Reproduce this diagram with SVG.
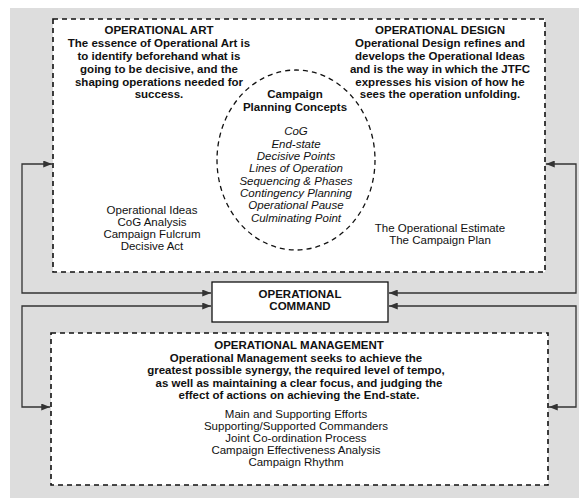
<svg xmlns="http://www.w3.org/2000/svg" width="579" height="498" viewBox="0 0 579 498">
<style>
  text { font-family: "Liberation Sans", Arial, sans-serif; font-size: 11.5px; fill: #111; text-anchor: middle; }
  .b { font-weight: bold; }
  .i { font-style: italic; }
  .dash { fill: #fff; stroke: #111; stroke-width: 1.6; stroke-dasharray: 5 4; }
  .cdash { fill: none; stroke: #111; stroke-width: 1.3; stroke-dasharray: 5 4; }
  .solid { fill: #fff; stroke: #111; stroke-width: 1.3; }
  .conn { fill: none; stroke: #333; stroke-width: 1.3; }
</style>
<defs>
  <marker id="ah" viewBox="0 0 10 8" refX="10" refY="4" markerWidth="9" markerHeight="7" markerUnits="userSpaceOnUse" orient="auto-start-reverse">
    <path d="M0,0 L10,4 L0,8 Z" fill="#333"/>
  </marker>
</defs>
<rect x="10" y="8" width="569" height="490" fill="#dddddd"/>

<g id="operational-art-design">
  <rect class="dash" x="53" y="19" width="492" height="253"/>
  <text class="b" x="159" y="34">OPERATIONAL ART</text>
  <text class="b" x="159" y="47">The essence of Operational Art is</text>
  <text class="b" x="159" y="60">to identify beforehand what is</text>
  <text class="b" x="159" y="73">going to be decisive, and the</text>
  <text class="b" x="159" y="85.5">shaping operations needed for</text>
  <text class="b" x="159" y="98">success.</text>
  <text class="b" x="440" y="34">OPERATIONAL DESIGN</text>
  <text class="b" x="440" y="47">Operational Design refines and</text>
  <text class="b" x="440" y="60">develops the Operational Ideas</text>
  <text class="b" x="440" y="73">and is the way in which the JTFC</text>
  <text class="b" x="440" y="85.5">expresses his vision of how he</text>
  <text class="b" x="440" y="98">sees the operation unfolding.</text>
  <text x="152" y="214">Operational Ideas</text>
  <text x="152" y="226">CoG Analysis</text>
  <text x="152" y="238">Campaign Fulcrum</text>
  <text x="152" y="250">Decisive Act</text>
  <text x="440" y="232">The Operational Estimate</text>
  <text x="440" y="244">The Campaign Plan</text>
</g>

<g id="campaign-planning-concepts">
  <ellipse class="cdash" cx="296" cy="160" rx="79" ry="90"/>
  <text class="b" x="295" y="98">Campaign</text>
  <text class="b" x="295" y="111">Planning Concepts</text>
  <text class="i" x="296" y="135">CoG</text>
  <text class="i" x="296" y="147.5">End-state</text>
  <text class="i" x="296" y="160">Decisive Points</text>
  <text class="i" x="296" y="172">Lines of Operation</text>
  <text class="i" x="296" y="184.5">Sequencing &amp; Phases</text>
  <text class="i" x="296" y="197">Contingency Planning</text>
  <text class="i" x="296" y="209">Operational Pause</text>
  <text class="i" x="296" y="222">Culminating Point</text>
</g>

<g id="operational-command">
  <rect class="solid" x="212" y="282" width="176" height="40"/>
  <text class="b" x="300" y="298">OPERATIONAL</text>
  <text class="b" x="300" y="310">COMMAND</text>
</g>

<g id="operational-management">
  <rect class="dash" x="51" y="333" width="497" height="152"/>
  <text class="b" x="299" y="349">OPERATIONAL MANAGEMENT</text>
  <text class="b" x="296" y="361.5">Operational Management seeks to achieve the</text>
  <text class="b" x="296" y="374">greatest possible synergy, the required level of tempo,</text>
  <text class="b" x="299" y="386.5">as well as maintaining a clear focus, and judging the</text>
  <text class="b" x="299" y="399">effect of actions on achieving the End-state.</text>
  <text x="296" y="418">Main and Supporting Efforts</text>
  <text x="296" y="430">Supporting/Supported Commanders</text>
  <text x="296" y="442">Joint Co-ordination Process</text>
  <text x="296" y="454">Campaign Effectiveness Analysis</text>
  <text x="296" y="466">Campaign Rhythm</text>
</g>

<g id="connectors">
  <path class="conn" d="M52,164 H22 V293 H211" marker-start="url(#ah)" marker-end="url(#ah)"/>
  <path class="conn" d="M211,306 H22 V407 H50" marker-start="url(#ah)" marker-end="url(#ah)"/>
  <path class="conn" d="M546,164 H576 V293 H389" marker-start="url(#ah)" marker-end="url(#ah)"/>
  <path class="conn" d="M389,306 H576 V407 H549" marker-start="url(#ah)" marker-end="url(#ah)"/>
</g>
</svg>
